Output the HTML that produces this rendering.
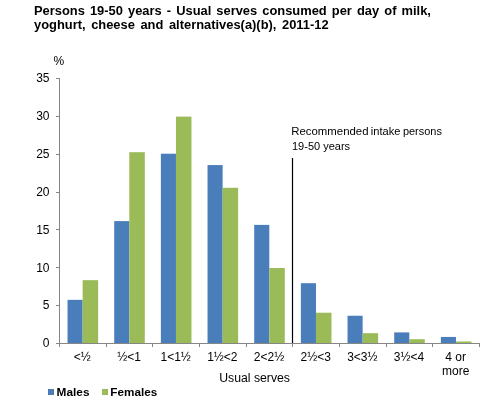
<!DOCTYPE html>
<html><head><meta charset="utf-8"><style>
html,body{margin:0;padding:0;background:#fff;width:489px;height:415px;overflow:hidden}
svg{position:absolute;left:0;top:0;display:block;will-change:transform}
text{font-family:"Liberation Sans",sans-serif;fill:#000}
.r{font-size:12px}
.t{font-size:12.9px;font-weight:bold}
.b{font-size:11.8px;font-weight:bold}
.n{font-size:11px}
</style></head><body>
<svg width="489" height="415" viewBox="0 0 489 415">
<rect x="67.53" y="299.84" width="15.1" height="43.16" fill="#4a7ebb"/>
<rect x="82.63" y="280.16" width="15.5" height="62.84" fill="#9bbb59"/>
<rect x="114.20" y="221.10" width="15.1" height="121.90" fill="#4a7ebb"/>
<rect x="129.30" y="152.20" width="15.5" height="190.80" fill="#9bbb59"/>
<rect x="160.87" y="153.71" width="15.1" height="189.29" fill="#4a7ebb"/>
<rect x="175.97" y="116.61" width="15.5" height="226.39" fill="#9bbb59"/>
<rect x="207.53" y="165.07" width="15.1" height="177.93" fill="#4a7ebb"/>
<rect x="222.63" y="187.79" width="15.5" height="155.21" fill="#9bbb59"/>
<rect x="254.20" y="224.89" width="15.1" height="118.11" fill="#4a7ebb"/>
<rect x="269.30" y="268.04" width="15.5" height="74.96" fill="#9bbb59"/>
<rect x="300.87" y="283.19" width="15.1" height="59.81" fill="#4a7ebb"/>
<rect x="315.97" y="312.71" width="15.5" height="30.29" fill="#9bbb59"/>
<rect x="347.53" y="315.74" width="15.1" height="27.26" fill="#4a7ebb"/>
<rect x="362.63" y="333.16" width="15.5" height="9.84" fill="#9bbb59"/>
<rect x="394.20" y="332.40" width="15.1" height="10.60" fill="#4a7ebb"/>
<rect x="409.30" y="339.21" width="15.5" height="3.79" fill="#9bbb59"/>
<rect x="440.87" y="336.94" width="15.1" height="6.06" fill="#4a7ebb"/>
<rect x="455.97" y="341.49" width="15.5" height="1.51" fill="#9bbb59"/>
<path d="M59.5 78.0 V343.5 H479.5" fill="none" stroke="#868686" stroke-width="1" shape-rendering="crispEdges"/>
<path d="M56.0 343.5 H59.5" stroke="#868686" stroke-width="1"/>
<path d="M56.0 305.5 H59.5" stroke="#868686" stroke-width="1"/>
<path d="M56.0 267.5 H59.5" stroke="#868686" stroke-width="1"/>
<path d="M56.0 229.5 H59.5" stroke="#868686" stroke-width="1"/>
<path d="M56.0 192.5 H59.5" stroke="#868686" stroke-width="1"/>
<path d="M56.0 154.5 H59.5" stroke="#868686" stroke-width="1"/>
<path d="M56.0 116.5 H59.5" stroke="#868686" stroke-width="1"/>
<path d="M56.0 78.5 H59.5" stroke="#868686" stroke-width="1"/>
<path d="M59.5 343.0 V347.0" stroke="#868686" stroke-width="1"/>
<path d="M106.5 343.0 V347.0" stroke="#868686" stroke-width="1"/>
<path d="M152.5 343.0 V347.0" stroke="#868686" stroke-width="1"/>
<path d="M199.5 343.0 V347.0" stroke="#868686" stroke-width="1"/>
<path d="M246.5 343.0 V347.0" stroke="#868686" stroke-width="1"/>
<path d="M292.5 343.0 V347.0" stroke="#868686" stroke-width="1"/>
<path d="M339.5 343.0 V347.0" stroke="#868686" stroke-width="1"/>
<path d="M386.5 343.0 V347.0" stroke="#868686" stroke-width="1"/>
<path d="M432.5 343.0 V347.0" stroke="#868686" stroke-width="1"/>
<path d="M479.5 343.0 V347.0" stroke="#868686" stroke-width="1"/>
<path d="M292.5 158 V343.0" stroke="#000" stroke-width="1.2"/>
<text x="49.5" y="347.30" text-anchor="end" class="r">0</text>
<text x="49.5" y="309.44" text-anchor="end" class="r">5</text>
<text x="49.5" y="271.59" text-anchor="end" class="r">10</text>
<text x="49.5" y="233.73" text-anchor="end" class="r">15</text>
<text x="49.5" y="195.87" text-anchor="end" class="r">20</text>
<text x="49.5" y="158.01" text-anchor="end" class="r">25</text>
<text x="49.5" y="120.16" text-anchor="end" class="r">30</text>
<text x="49.5" y="82.30" text-anchor="end" class="r">35</text>
<text x="53.5" y="65" class="r">%</text>
<text x="82.33" y="361.3" text-anchor="middle" class="r">&lt;½</text>
<text x="129.00" y="361.3" text-anchor="middle" class="r">½&lt;1</text>
<text x="175.67" y="361.3" text-anchor="middle" class="r">1&lt;1½</text>
<text x="222.33" y="361.3" text-anchor="middle" class="r">1½&lt;2</text>
<text x="269.00" y="361.3" text-anchor="middle" class="r">2&lt;2½</text>
<text x="315.67" y="361.3" text-anchor="middle" class="r">2½&lt;3</text>
<text x="362.33" y="361.3" text-anchor="middle" class="r">3&lt;3½</text>
<text x="409.00" y="361.3" text-anchor="middle" class="r">3½&lt;4</text>
<text x="455.67" y="361.3" text-anchor="middle" class="r">4 or</text>
<text x="455.67" y="375" text-anchor="middle" class="r">more</text>
<text x="219.2" y="381.7" class="r" textLength="70.8" lengthAdjust="spacingAndGlyphs">Usual serves</text>
<text x="34.0" y="14.8" class="t" style="word-spacing:1.5px">Persons 19-50 years - Usual serves consumed per day of milk,</text>
<text x="34.0" y="29.2" class="t" style="word-spacing:2.0px">yoghurt, cheese and alternatives(a)(b), 2011-12</text>
<text x="291.3" y="135" class="n" textLength="77.2" lengthAdjust="spacingAndGlyphs">Recommended</text>
<text x="370.8" y="135" class="n" textLength="29.6" lengthAdjust="spacingAndGlyphs">intake</text>
<text x="402.9" y="135" class="n" textLength="39.0" lengthAdjust="spacingAndGlyphs">persons</text>
<text x="292" y="150.2" class="n">19-50 years</text>
<rect x="48" y="389" width="6" height="6" fill="#4a7ebb"/>
<text x="56.6" y="395.6" class="b" textLength="32.9" lengthAdjust="spacingAndGlyphs">Males</text>
<rect x="102" y="389" width="6" height="6" fill="#9bbb59"/>
<text x="110.3" y="395.6" class="b" textLength="47.0" lengthAdjust="spacingAndGlyphs">Females</text>
</svg>
</body></html>
